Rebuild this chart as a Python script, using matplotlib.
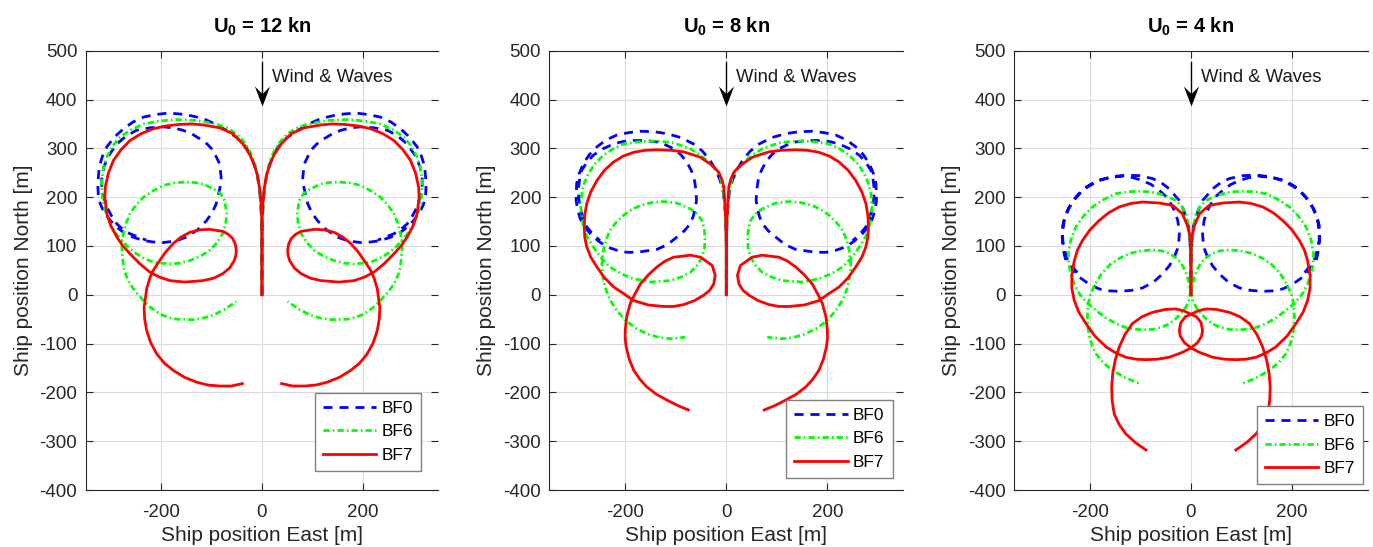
import matplotlib
matplotlib.use("Agg")
import numpy as np
import matplotlib.pyplot as plt
from matplotlib.path import Path

plt.rcParams['font.family'] = ['Liberation Sans', 'DejaVu Sans']
plt.rcParams['mathtext.fontset'] = 'custom'
plt.rcParams['mathtext.rm'] = 'Liberation Sans'
plt.rcParams['mathtext.bf'] = 'Liberation Sans:bold'
plt.rcParams['axes.unicode_minus'] = False
plt.rcParams['lines.scale_dashes'] = False

# Starboard (right) turn trajectories, (East, North) in m.
# The port turns are the mirror image (East -> -East).

# U0 = 12 kn
u12_bf0 = [(0, 0), (0, 100), (1, 160), (4, 210), (10, 250), (20, 280), (32, 303), (50, 322), (71, 337),
           (93, 350), (117, 361), (150, 369), (170, 371), (189, 372), (212, 369), (235, 364), (256, 354),
           (275, 340), (293, 323), (308, 303), (317, 283), (323, 262), (326, 227), (325, 206), (321, 186),
           (313, 168), (301, 152), (289, 139), (275, 128), (256, 118), (235, 111), (215, 108), (196, 107),
           (172, 110), (150, 118), (128, 133), (110, 152), (99, 168), (91, 186), (83, 221), (81, 240),
           (84, 268), (97, 296), (109, 309), (124, 320), (140, 330), (157, 337), (176, 342), (196, 344),
           (223, 342), (249, 337), (270, 325), (288, 309), (303, 287), (314, 262), (318, 242), (318, 221),
           (314, 200), (308, 180), (299, 162), (288, 145), (276, 134), (262, 125), (230, 112)]
u12_bf6 = [(0, 0), (0, 100), (1, 160), (4, 210), (10, 250), (16, 275), (25, 296), (37, 315), (51, 330),
           (70, 342), (91, 350), (130, 357), (170, 359), (203, 356), (235, 350), (260, 338), (282, 323),
           (297, 304), (308, 282), (315, 258), (318, 234), (318, 213), (316, 193), (310, 168), (301, 145),
           (291, 127), (278, 111), (264, 96), (249, 84), (233, 74), (216, 67), (183, 63), (163, 65),
           (143, 70), (122, 79), (104, 91), (89, 107), (78, 125), (72, 145), (70, 166), (74, 193), (81, 205),
           (91, 214), (117, 227), (134, 230), (153, 231), (175, 229), (196, 224), (216, 213), (235, 200),
           (250, 184), (262, 166), (270, 146), (275, 125), (278, 108), (278, 91), (275, 57), (270, 40),
           (262, 22), (250, 5), (235, -12), (220, -27), (203, -39), (187, -46), (170, -50), (137, -51),
           (117, -48), (97, -42), (74, -30), (51, -14)]
u12_bf7 = [(0, 0), (0, 100), (0, 150), (2, 190), (5, 220), (9, 245), (15, 265), (24, 287), (38, 309),
           (58, 330), (84, 342), (117, 348), (140, 350), (163, 349), (190, 346), (216, 340), (240, 330),
           (262, 316), (280, 297), (295, 275), (305, 249), (311, 221), (312, 200), (308, 166), (300, 141),
           (288, 118), (276, 100), (262, 84), (243, 64), (222, 46), (203, 36), (183, 29), (153, 26),
           (117, 29), (96, 34), (78, 43), (64, 55), (55, 70), (52, 80), (51, 91), (53, 104), (58, 115),
           (67, 124), (78, 130), (104, 134), (124, 133), (143, 128), (161, 118), (176, 105), (191, 88),
           (203, 70), (214, 53), (222, 36), (229, 12), (232, -12), (234, -25), (233, -49), (229, -73),
           (221, -98), (209, -121), (194, -140), (176, -155), (154, -169), (130, -179), (107, -185),
           (84, -187), (61, -187), (39, -182)]

# U0 = 8 kn
u8_bf0 = [(0, 0), (0, 100), (2, 170), (6, 210), (12, 234), (21, 256), (32, 275), (47, 294), (65, 309),
          (90, 322), (117, 330), (143, 334), (170, 335), (194, 332), (217, 327), (238, 317), (256, 303),
          (271, 287), (283, 268), (291, 248), (296, 228), (297, 193), (294, 174), (289, 156), (280, 139),
          (269, 125), (253, 110), (236, 98), (216, 91), (197, 87), (177, 87), (137, 93), (116, 103),
          (98, 118), (83, 131), (71, 146), (65, 162), (61, 180), (59, 193), (60, 214), (63, 234), (69, 254),
          (78, 272), (90, 287), (104, 299), (120, 307), (137, 313), (160, 316), (184, 316), (204, 314),
          (223, 309), (244, 299), (263, 286), (276, 271), (286, 255), (290, 238), (292, 221), (292, 200),
          (289, 180), (284, 159), (276, 139), (264, 124), (250, 111)]
u8_bf6 = [(0, 0), (0, 100), (2, 170), (6, 215), (12, 241), (23, 259), (38, 275), (54, 288), (71, 299),
          (104, 311), (127, 314), (150, 315), (177, 313), (203, 309), (224, 299), (243, 286), (260, 268),
          (273, 248), (281, 228), (286, 207), (288, 180), (283, 139), (275, 118), (263, 98), (248, 76),
          (230, 57), (208, 43), (184, 33), (150, 26), (111, 29), (90, 36), (71, 46), (58, 60), (48, 77),
          (43, 97), (42, 118), (44, 136), (48, 152), (58, 166), (71, 176), (98, 188), (124, 191), (147, 189),
          (170, 183), (188, 174), (203, 163), (218, 148), (230, 132), (238, 112), (243, 91), (246, 64),
          (245, 40), (240, 16), (231, -9), (217, -32), (199, -53), (177, -70), (154, -81), (131, -88),
          (111, -90), (81, -87)]
u8_bf7 = [(0, 0), (0, 100), (1, 150), (3, 190), (5, 221), (9, 237), (15, 251), (24, 261), (32, 268),
          (52, 282), (85, 293), (110, 296), (137, 297), (160, 296), (183, 292), (204, 284), (223, 272),
          (241, 255), (256, 234), (268, 211), (276, 187), (280, 163), (281, 139), (280, 118), (276, 98),
          (268, 77), (256, 57), (241, 35), (223, 16), (204, 3), (183, -12), (154, -21), (124, -24),
          (104, -24), (84, -20), (63, -12), (45, -1), (33, 9), (25, 22), (22, 40), (28, 60), (51, 77),
          (71, 81), (104, 77), (121, 69), (137, 57), (154, 41), (170, 22), (181, 1), (190, -18), (197, -45),
          (200, -73), (200, -90), (198, -107), (192, -132), (183, -155), (171, -173), (157, -189),
          (138, -204), (117, -216), (96, -227), (75, -236)]

# U0 = 4 kn
u4_bf0 = [(0, 0), (0, 60), (2, 110), (5, 140), (10, 159), (16, 177), (23, 193), (43, 217), (58, 229),
          (76, 238), (102, 244), (129, 245), (156, 242), (182, 234), (203, 222), (221, 207), (237, 187),
          (248, 166), (254, 142), (255, 118), (253, 93), (248, 70), (236, 51), (221, 36), (202, 22),
          (182, 12), (162, 8), (142, 7), (118, 9), (96, 14), (74, 26), (56, 43), (43, 59), (33, 77),
          (27, 93), (24, 111), (23, 125), (26, 152), (32, 171), (40, 187), (50, 202), (63, 214), (79, 226),
          (96, 234), (115, 240), (135, 243), (162, 240), (188, 233), (210, 219), (228, 200), (242, 177),
          (251, 152), (254, 131), (254, 111), (250, 90), (244, 70), (225, 45)]
u4_bf6 = [(0, 0), (0, 60), (2, 110), (5, 140), (10, 166), (18, 181), (30, 193), (45, 201), (63, 207),
          (82, 211), (102, 212), (126, 211), (149, 207), (173, 195), (195, 180), (213, 161), (228, 139),
          (238, 112), (243, 84), (242, 63), (238, 43), (231, 22), (221, 2), (206, -16), (188, -32),
          (169, -47), (149, -59), (132, -66), (116, -70), (96, -72), (76, -71), (56, -66), (42, -59),
          (30, -49), (19, -38), (10, -25), (3, -10), (1, 8), (5, 30), (11, 48), (20, 66), (30, 76), (43, 85),
          (58, 90), (76, 92), (98, 90), (120, 85), (141, 75), (160, 62), (177, 43), (190, 22), (199, 0),
          (204, -20), (205, -46), (204, -68), (200, -90), (195, -106), (188, -121), (174, -139),
          (155, -155), (130, -170), (102, -182)]
u4_bf7 = [(0, 0), (0, 60), (0, 105), (3, 125), (7, 142), (17, 166), (36, 183), (63, 188), (96, 190),
          (119, 187), (142, 180), (163, 168), (182, 152), (200, 133), (215, 111), (225, 91), (231, 70),
          (236, 40), (236, 14), (231, -12), (222, -36), (208, -59), (190, -85), (168, -107), (149, -119),
          (129, -128), (109, -132), (89, -133), (66, -132), (43, -128), (17, -118), (0, -109), (-13, -98),
          (-21, -85), (-23, -73), (-20, -57), (-11, -45), (0, -40), (14, -33), (30, -29), (50, -30),
          (76, -36), (97, -45), (116, -59), (131, -82), (142, -107), (150, -134), (155, -162), (157, -189),
          (156, -217), (152, -244), (142, -266), (129, -285), (110, -303), (89, -318)]

speeds = ['12', '8', '4']
series = [[u12_bf0, u12_bf6, u12_bf7], [u8_bf0, u8_bf6, u8_bf7], [u4_bf0, u4_bf6, u4_bf7]]
labels = ['BF0', 'BF6', 'BF7']
colors = ['#0000ff', '#00ff00', '#ff0000']
styles = [(0, (6.5, 5.0)), (0, (4.5, 2.2, 1.2, 2.2)), '-']

# wind arrow (annotation, data units)
arrow_top, arrow_tip = 477, 386
head = Path([(0, 0), (-0.38, 1), (0, 0.62), (0.38, 1), (0, 0)],
            [Path.MOVETO, Path.LINETO, Path.LINETO, Path.LINETO, Path.CLOSEPOLY])

ax_lefts = [0.0624, 0.4001, 0.7387]
ax_widths = [0.2568, 0.2578, 0.2574]
legend_anchor = [(0.952, 0.043), (0.970, 0.027), (0.9875, 0.013)]

fig = plt.figure(figsize=(13.73, 5.47), dpi=100)

for i in range(3):
    ax = fig.add_axes([ax_lefts[i], 0.1042, ax_widths[i], 0.8031])
    for pts, lab, c, ls in zip(series[i], labels, colors, styles):
        x, y = np.array(pts, dtype=float).T
        ax.plot(x, y, color=c, linestyle=ls, lw=2, label=lab)
        ax.plot(-x, y, color=c, linestyle=ls, lw=2)

    ax.set_xlim(-350, 350)
    ax.set_ylim(-400, 500)
    ax.set_xticks([-200, 0, 200])
    ax.set_yticks(range(-400, 501, 100))
    ax.grid(True, color='#dcdcdc', lw=0.8)
    ax.set_axisbelow(True)
    ax.tick_params(direction='in', length=5, width=0.8, top=True, right=True,
                   labelsize=13.5, colors='#262626', pad=6)
    ax.tick_params(axis='x', pad=10)
    for s in ['left', 'bottom', 'top']:
        ax.spines[s].set_color('#262626')
        ax.spines[s].set_linewidth(0.8)
    ax.spines['right'].set_visible(False)

    ax.plot([0, 0], [arrow_top, arrow_tip + 12], color='k', lw=1)
    ax.plot([0], [arrow_tip], marker=head, ms=28.8, color='k', mew=0)
    ax.text(20, 435, 'Wind & Waves', fontsize=13.3, va='baseline', ha='left', color='#1a1a1a')

    ax.set_title(r'$\mathbf{U_0}$ = ' + speeds[i] + ' kn', fontsize=14.5, fontweight='bold', pad=13)
    ax.set_xlabel('Ship position East [m]', fontsize=15, color='#262626', labelpad=4)
    ax.set_ylabel('Ship position North [m]', fontsize=15, color='#262626', labelpad=5)

    leg = ax.legend(loc='lower right', bbox_to_anchor=legend_anchor[i], borderaxespad=0,
                    fontsize=12.4, handlelength=3.1, handletextpad=0.3, borderpad=0.48,
                    labelspacing=0.49, fancybox=False, framealpha=1)
    leg.get_frame().set_edgecolor('#808080')
    leg.get_frame().set_linewidth(1)

fig.savefig('out.png', dpi=100)
